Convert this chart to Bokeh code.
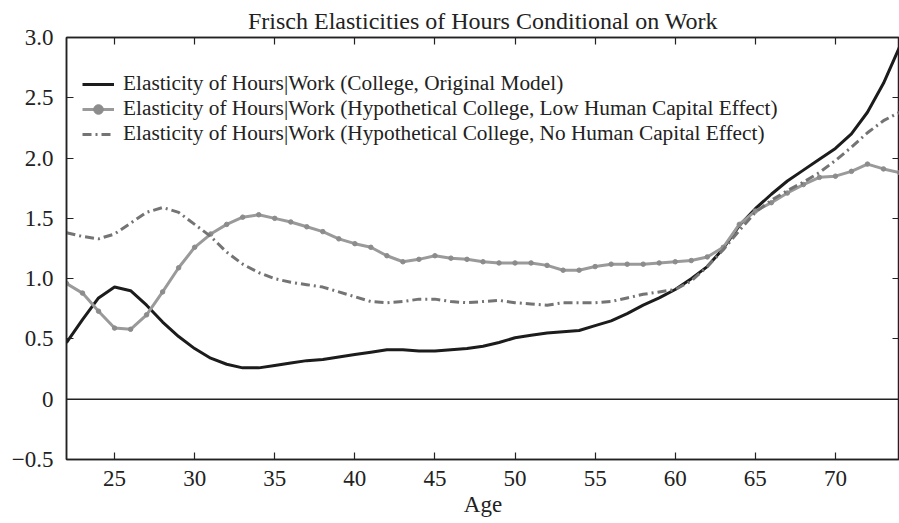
from bokeh.plotting import figure
from bokeh.models import LinearAxis, FixedTicker, Legend, LegendItem, Span
from bokeh.embed import file_html
from bokeh.resources import INLINE

# ---------------- data ----------------
ages = list(range(22, 75))
college = [0.47, 0.66, 0.84, 0.93, 0.90, 0.78, 0.64, 0.52, 0.42, 0.34,
           0.29, 0.26, 0.26, 0.28, 0.30, 0.32, 0.33, 0.35, 0.37, 0.39,
           0.41, 0.41, 0.40, 0.40, 0.41, 0.42, 0.44, 0.47, 0.51, 0.53,
           0.55, 0.56, 0.57, 0.61, 0.65, 0.71, 0.78, 0.84, 0.91, 1.00,
           1.10, 1.25, 1.44, 1.58, 1.70, 1.81, 1.90, 1.99, 2.08, 2.20,
           2.38, 2.62, 2.92]
low_hce = [0.96, 0.88, 0.73, 0.59, 0.58, 0.70, 0.89, 1.09, 1.26, 1.37,
           1.45, 1.51, 1.53, 1.50, 1.47, 1.43, 1.39, 1.33, 1.29, 1.26,
           1.19, 1.14, 1.16, 1.19, 1.17, 1.16, 1.14, 1.13, 1.13, 1.13,
           1.11, 1.07, 1.07, 1.10, 1.12, 1.12, 1.12, 1.13, 1.14, 1.15,
           1.18, 1.26, 1.45, 1.56, 1.63, 1.71, 1.78, 1.84, 1.85, 1.89,
           1.95, 1.91, 1.88]
no_hce = [1.38, 1.35, 1.33, 1.37, 1.46, 1.55, 1.59, 1.55, 1.45, 1.35,
          1.22, 1.12, 1.05, 1.00, 0.97, 0.95, 0.93, 0.89, 0.85, 0.81,
          0.80, 0.81, 0.83, 0.83, 0.81, 0.80, 0.81, 0.82, 0.80, 0.79,
          0.78, 0.80, 0.80, 0.80, 0.81, 0.84, 0.87, 0.89, 0.91, 0.98,
          1.10, 1.24, 1.40, 1.55, 1.65, 1.73, 1.80, 1.88, 1.98, 2.09,
          2.21, 2.31, 2.38]
x_ticks = [25, 30, 35, 40, 45, 50, 55, 60, 65, 70]
y_ticks = [-0.5, 0, 0.5, 1.0, 1.5, 2.0, 2.5, 3.0]
y_tick_labels = ["\u22120.5", "0", "0.5", "1.0", "1.5", "2.0", "2.5", "3.0"]
series_labels = [
    "Elasticity of Hours|Work (College, Original Model)",
    "Elasticity of Hours|Work (Hypothetical College, Low Human Capital Effect)",
    "Elasticity of Hours|Work (Hypothetical College, No Human Capital Effect)",
]
title_text = "Frisch Elasticities of Hours Conditional on Work"
x_label = "Age"

FONT = "Liberation Serif"
INK = "#222222"

p = figure(width=899, height=523, x_range=(22, 74), y_range=(-0.5, 3.0),
           output_backend="svg", toolbar_location=None,
           min_border_left=66, min_border_right=0, min_border_top=37,
           min_border_bottom=64)
p.title.text = title_text
p.title.text_font = FONT
p.title.text_font_size = "24px"
p.title.text_font_style = "normal"
p.title.align = "center"
p.title.text_color = INK
p.title.standoff = 8

p.xgrid.visible = False
p.ygrid.visible = False
p.outline_line_color = INK
p.outline_line_width = 1.5
p.background_fill_color = "white"
p.border_fill_color = "white"

# main axes
xa = p.xaxis[0]
xa.ticker = FixedTicker(ticks=x_ticks)
xa.axis_label = x_label
ya = p.yaxis[0]
ya.ticker = FixedTicker(ticks=y_ticks)
ya.major_label_overrides = {t: l for t, l in zip(y_ticks, y_tick_labels)}
for ax in (xa, ya):
    ax.major_tick_in = 7
    ax.major_tick_out = 0
    ax.minor_tick_in = 0
    ax.minor_tick_out = 0
    ax.axis_line_color = INK
    ax.axis_line_width = 1.5
    ax.major_tick_line_color = INK
    ax.major_tick_line_width = 1.2
    ax.major_label_text_font = FONT
    ax.major_label_text_font_size = "23px"
    ax.major_label_text_color = INK
    ax.axis_label_text_font = FONT
    ax.axis_label_text_font_size = "23px"
    ax.axis_label_text_font_style = "normal"
    ax.axis_label_text_color = INK
xa.major_label_standoff = 11
xa.axis_label_standoff = 3
ya.major_label_standoff = 13

# mirrored axes (ticks only, labels not drawn)
top = LinearAxis(ticker=FixedTicker(ticks=x_ticks))
right = LinearAxis(ticker=FixedTicker(ticks=y_ticks))
for ax in (top, right):
    ax.major_tick_in = 7
    ax.major_tick_out = 0
    ax.minor_tick_in = 0
    ax.minor_tick_out = 0
    ax.major_label_text_font_size = "1px"
    ax.major_label_text_color = None
    ax.major_label_standoff = 0
    ax.axis_line_color = INK
    ax.axis_line_width = 1.5
    ax.major_tick_line_color = INK
    ax.major_tick_line_width = 1.2
p.add_layout(top, "above")
p.add_layout(right, "right")

p.add_layout(Span(location=0, dimension="width", line_color=INK,
                  line_width=1.5))

r1 = p.line(ages, college, line_color="#1c1c1c", line_width=3)
r2 = p.line(ages, low_hce, line_color="#9a9a9a", line_width=3)
r2m = p.scatter(ages, low_hce, marker="circle", size=4.5,
                fill_color="#8c8c8c", line_color="#8c8c8c")
r3 = p.line(ages, no_hce, line_color="#747474", line_width=3,
            line_dash="9 4 2 4")

legend = Legend(items=[
    LegendItem(label=series_labels[0], renderers=[r1]),
    LegendItem(label=series_labels[1], renderers=[r2, r2m]),
    LegendItem(label=series_labels[2], renderers=[r3]),
], location=(16, 313))
legend.label_text_font = FONT
legend.label_text_font_size = "21.3px"
legend.label_text_color = INK
legend.glyph_width = 32
legend.glyph_height = 24
legend.label_height = 24
legend.spacing = 0
legend.padding = 0
legend.margin = 0
legend.label_standoff = 9
legend.border_line_color = None
legend.background_fill_alpha = 0
p.add_layout(legend, "center")

open("out.html", "w").write(file_html(p, INLINE))
